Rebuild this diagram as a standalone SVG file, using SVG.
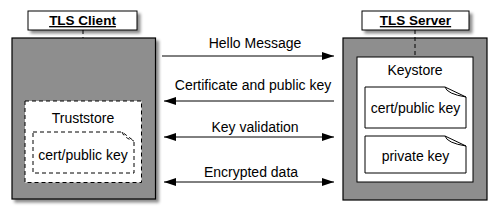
<svg xmlns="http://www.w3.org/2000/svg" width="498" height="211" viewBox="0 0 498 211">
<defs>
<filter id="sh" x="-10%" y="-10%" width="130%" height="140%">
<feDropShadow dx="3" dy="3" stdDeviation="1.8" flood-color="#000" flood-opacity="0.45"/>
</filter>
<marker id="ah" viewBox="0 0 12 8" refX="12" refY="4" markerWidth="12" markerHeight="8" markerUnits="userSpaceOnUse" orient="auto-start-reverse">
<path d="M0,0 L12,4 L0,8 Z" fill="#000"/>
</marker>
</defs>
<style>
text{font-family:"Liberation Sans",Arial,Helvetica,sans-serif;font-size:14px;fill:#000;text-anchor:middle}
.title{font-weight:bold;font-size:13.5px;text-decoration:underline}
.lbl{fill:#fff;stroke:#000;stroke-width:1}
.big{fill:#8e8e8e;stroke:#000;stroke-width:1.2}
.store{fill:#fff;stroke:#000;stroke-width:1}
.dash{stroke-dasharray:4,3}
.edge{stroke:#000;stroke-width:1;fill:none}
</style>
<g id="client">
<rect class="big" x="12" y="38" width="143.5" height="161" filter="url(#sh)"/>
<g id="client-label">
<rect class="lbl" x="28" y="11" width="109" height="19" filter="url(#sh)"/>
<text class="title" x="82.5" y="25">TLS Client</text>
</g>
<line class="edge dash" x1="83" y1="30" x2="83" y2="38"/>
<g id="truststore">
<rect class="store dash" x="25" y="101" width="116.5" height="81.5"/>
<text x="83" y="123">Truststore</text>
<g id="trust-cert">
<path class="store dash" d="M33,132 H122 L134,141 V173 H33 Z"/>
<path class="edge dash" d="M122,132 Q124,138 134,141"/>
<text x="83" y="160">cert/public key</text>
</g>
</g>
</g>
<g id="server">
<rect class="big" x="343" y="38" width="144" height="162"/>
<g id="server-label">
<rect class="lbl" x="362" y="11" width="107" height="19" filter="url(#sh)"/>
<text class="title" x="415.5" y="25">TLS Server</text>
</g>
<line class="edge dash" x1="415" y1="30" x2="415" y2="57"/>
<g id="keystore">
<rect class="store" x="357" y="57" width="116" height="125"/>
<text x="415" y="75">Keystore</text>
<g id="key-cert">
<path class="store" d="M365,87 H445 L466,97 V128 H365 Z"/>
<path class="edge" d="M445,87 Q447,94 466,97"/>
<text x="415.5" y="113">cert/public key</text>
</g>
<g id="key-private">
<path class="store" d="M365,136 H445 L466,146 V173 H365 Z"/>
<path class="edge" d="M445,136 Q447,143 466,146"/>
<text x="415.5" y="161">private key</text>
</g>
</g>
</g>
<g id="connectors">
<line class="edge" x1="162" y1="56" x2="334" y2="56" marker-end="url(#ah)"/>
<text x="255" y="48">Hello Message</text>
<line class="edge" x1="334" y1="101" x2="164" y2="101" marker-end="url(#ah)"/>
<text x="253" y="90">Certificate and public key</text>
<line class="edge" x1="164" y1="137" x2="334" y2="137" marker-start="url(#ah)" marker-end="url(#ah)"/>
<text x="255" y="132">Key validation</text>
<line class="edge" x1="164" y1="182" x2="334" y2="182" marker-start="url(#ah)" marker-end="url(#ah)"/>
<text x="251" y="177">Encrypted data</text>
</g>
</svg>
